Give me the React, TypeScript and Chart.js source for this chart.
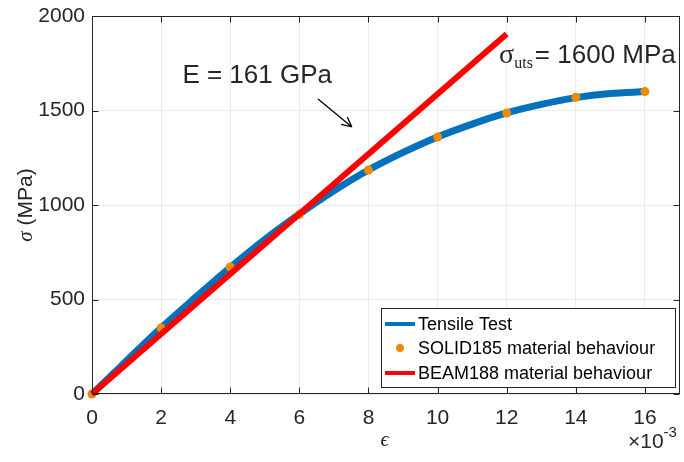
import React, { useEffect, useRef } from "react";
import { Chart, registerables } from "chart.js";

Chart.register(...registerables);

// ---- data ----
const strainDense = [0, 1, 2, 3, 4, 5, 6, 7, 8, 9, 10, 11, 12, 13, 14, 15, 16];
const tensileStress = [0, 176, 350, 512, 670, 818, 952, 1075, 1185, 1278, 1360, 1428, 1487, 1532, 1568, 1590, 1600];
const solidStrain = [0, 2, 4, 6, 8, 10, 12, 14, 16];
const solidStress = [0, 349, 672, 950, 1185, 1360, 1487, 1570, 1600];
const beamStrain = [0, 12];
const beamStress = [0, 1905];
const seriesLabels = ["Tensile Test", "SOLID185 material behaviour", "BEAM188 material behaviour"];
const xTickValues = [0, 2, 4, 6, 8, 10, 12, 14, 16];
const yTickValues = [0, 500, 1000, 1500, 2000];

const BLUE = "#0072BD";
const ORANGE = "#EE8A00";
const RED = "#FF0000";
const AX = "#262626";
const SANS = "'Liberation Sans', Arial, sans-serif";
const SERIF = "'Liberation Serif', 'Times New Roman', serif";

const decorPlugin = {
  id: "decor",
  afterDraw(chart: any) {
    const ctx = chart.ctx as CanvasRenderingContext2D;
    const { left, right, top, bottom } = chart.chartArea;
    const xs = chart.scales.x;
    const ys = chart.scales.y;
    ctx.save();
    // axes box
    ctx.strokeStyle = AX;
    ctx.lineWidth = 1;
    const L = Math.round(left) + 0.5;
    const R = Math.round(right) - 0.5;
    const T = Math.round(top) + 0.5;
    const B = Math.round(bottom) - 0.5;
    ctx.strokeRect(L, T, R - L, B - T);
    // inward ticks
    const tl = 6;
    ctx.beginPath();
    xs.ticks.forEach((t: any) => {
      const px = Math.round(xs.getPixelForValue(t.value)) + 0.5;
      ctx.moveTo(px, B);
      ctx.lineTo(px, B - tl);
      ctx.moveTo(px, T);
      ctx.lineTo(px, T + tl);
    });
    ys.ticks.forEach((t: any) => {
      const py = Math.round(ys.getPixelForValue(t.value)) + 0.5;
      ctx.moveTo(L, py);
      ctx.lineTo(L + tl, py);
      ctx.moveTo(R, py);
      ctx.lineTo(R - tl, py);
    });
    ctx.stroke();

    // annotations
    ctx.fillStyle = AX;
    ctx.textBaseline = "alphabetic";
    ctx.font = `26px ${SANS}`;
    ctx.textAlign = "center";
    ctx.fillText("E = 161 GPa", xs.getPixelForValue(4.78), ys.getPixelForValue(1645));

    // arrow
    const ax1 = xs.getPixelForValue(6.54), ay1 = ys.getPixelForValue(1561);
    const ax2 = xs.getPixelForValue(7.52), ay2 = ys.getPixelForValue(1413);
    ctx.strokeStyle = "#000";
    ctx.lineWidth = 1.3;
    ctx.beginPath();
    ctx.moveTo(ax1, ay1);
    ctx.lineTo(ax2, ay2);
    const ang = Math.atan2(ay2 - ay1, ax2 - ax1);
    const hl = 11;
    ctx.moveTo(ax2, ay2);
    ctx.lineTo(ax2 - hl * Math.cos(ang - 0.45), ay2 - hl * Math.sin(ang - 0.45));
    ctx.moveTo(ax2, ay2);
    ctx.lineTo(ax2 - hl * Math.cos(ang + 0.45), ay2 - hl * Math.sin(ang + 0.45));
    ctx.stroke();

    // sigma_uts
    ctx.textAlign = "left";
    let sx = xs.getPixelForValue(11.78);
    const sy = ys.getPixelForValue(1751);
    ctx.font = `28px ${SERIF}`;
    ctx.fillText("σ", sx, sy);
    sx += ctx.measureText("σ").width;
    ctx.font = `16px ${SERIF}`;
    ctx.fillText("uts", sx, sy + 5);
    sx += ctx.measureText("uts").width + 2;
    ctx.font = `26px ${SANS}`;
    ctx.fillText("= 1600 MPa", sx, sy);

    // axis titles
    ctx.save();
    ctx.translate(26, 205);
    ctx.rotate(-Math.PI / 2);
    ctx.font = `italic 21px ${SERIF}`;
    const w1 = ctx.measureText("σ").width;
    ctx.font = `21px ${SANS}`;
    const w2 = ctx.measureText(" (MPa)").width;
    const start = -(w1 + w2) / 2;
    ctx.textBaseline = "middle";
    ctx.font = `italic 21px ${SERIF}`;
    ctx.fillText("σ", start, 0);
    ctx.font = `21px ${SANS}`;
    ctx.fillText(" (MPa)", start + w1, 0);
    ctx.restore();

    ctx.font = `italic 21px ${SERIF}`;
    ctx.textAlign = "center";
    ctx.textBaseline = "alphabetic";
    ctx.fillText("ϵ", (left + right) / 2 - 1, 446);

    // x10^-3
    ctx.textAlign = "left";
    ctx.font = `21px ${SANS}`;
    ctx.fillText("×10", 628, 448);
    const wx = ctx.measureText("×10").width;
    ctx.font = `15px ${SANS}`;
    ctx.fillText("-3", 628 + wx, 437);

    // legend
    const lx = 381.5, ly = 308.5, lw = 294, lh = 79;
    ctx.fillStyle = "#fff";
    ctx.fillRect(lx, ly, lw, lh);
    ctx.strokeStyle = AX;
    ctx.lineWidth = 1;
    ctx.strokeRect(lx, ly, lw, lh);
    const rows = [324, 348, 373];
    ctx.font = `18px ${SANS}`;
    ctx.textBaseline = "middle";
    ctx.textAlign = "left";
    const colors = [BLUE, ORANGE, RED];
    seriesLabels.forEach((lab, i) => {
      const ry = rows[i];
      if (i === 1) {
        ctx.fillStyle = ORANGE;
        ctx.beginPath();
        ctx.arc(400, ry, 4, 0, Math.PI * 2);
        ctx.fill();
      } else {
        ctx.strokeStyle = colors[i];
        ctx.lineWidth = 4;
        ctx.beginPath();
        ctx.moveTo(385, ry);
        ctx.lineTo(415, ry);
        ctx.stroke();
      }
      ctx.fillStyle = "#000";
      ctx.fillText(lab, 418, ry + 1);
    });
    ctx.restore();
  },
};

export default function App() {
  const ref = useRef<HTMLCanvasElement | null>(null);
  useEffect(() => {
    if (!ref.current) return;
    const chart = new Chart(ref.current, {
      type: "scatter",
      data: {
        datasets: [
          {
            label: seriesLabels[2],
            data: beamStrain.map((x, i) => ({ x, y: beamStress[i] })),
            showLine: true,
            borderColor: RED,
            borderWidth: 6,
            pointRadius: 0,
            clip: false,
            order: 0,
          } as any,
          {
            label: seriesLabels[1],
            data: solidStrain.map((x, i) => ({ x, y: solidStress[i] })),
            showLine: false,
            backgroundColor: ORANGE,
            borderWidth: 0,
            pointRadius: 4.5,
            clip: false,
            order: 1,
          },
          {
            label: seriesLabels[0],
            data: strainDense.map((x, i) => ({ x, y: tensileStress[i] })),
            showLine: true,
            borderColor: BLUE,
            borderWidth: 7,
            pointRadius: 0,
            cubicInterpolationMode: "monotone",
            clip: false,
            order: 2,
          },
        ],
      },
      options: {
        animation: false,
        responsive: false,
        devicePixelRatio: 1,
        layout: { padding: { left: 0, top: 16, right: 2, bottom: 0 } },
        plugins: { legend: { display: false }, tooltip: { enabled: false } },
        scales: {
          x: {
            type: "linear",
            min: 0,
            max: 17,
            afterBuildTicks: (s: any) => {
              s.ticks = xTickValues.map((v) => ({ value: v }));
            },
            afterFit: (s: any) => {
              s.height = 68;
              s.paddingLeft = 0;
              s.paddingRight = 0;
            },
            ticks: {
              padding: 12,
              color: AX,
              font: { family: SANS, size: 21 },
              maxRotation: 0,
              autoSkip: false,
              callback: (v: any) => String(v),
            },
            grid: { color: "#EBEBEB", lineWidth: 1, drawTicks: false },
            border: { display: false },
          },
          y: {
            type: "linear",
            min: 0,
            max: 2000,
            afterBuildTicks: (s: any) => {
              s.ticks = yTickValues.map((v) => ({ value: v }));
            },
            afterFit: (s: any) => {
              s.width = 92;
              s.paddingTop = 0;
              s.paddingBottom = 0;
            },
            ticks: {
              padding: 7,
              color: AX,
              font: { family: SANS, size: 21 },
              autoSkip: false,
              callback: (v: any) => String(v),
            },
            grid: { color: "#EBEBEB", lineWidth: 1, drawTicks: false },
            border: { display: false },
          },
        },
      },
      plugins: [decorPlugin],
    });
    return () => chart.destroy();
  }, []);
  return (
    <div style={{ position: "fixed", left: 0, top: 0, width: 684, height: 462, background: "#fff" }}>
      <canvas ref={ref} width={684} height={462} style={{ display: "block" }} />
    </div>
  );
}
